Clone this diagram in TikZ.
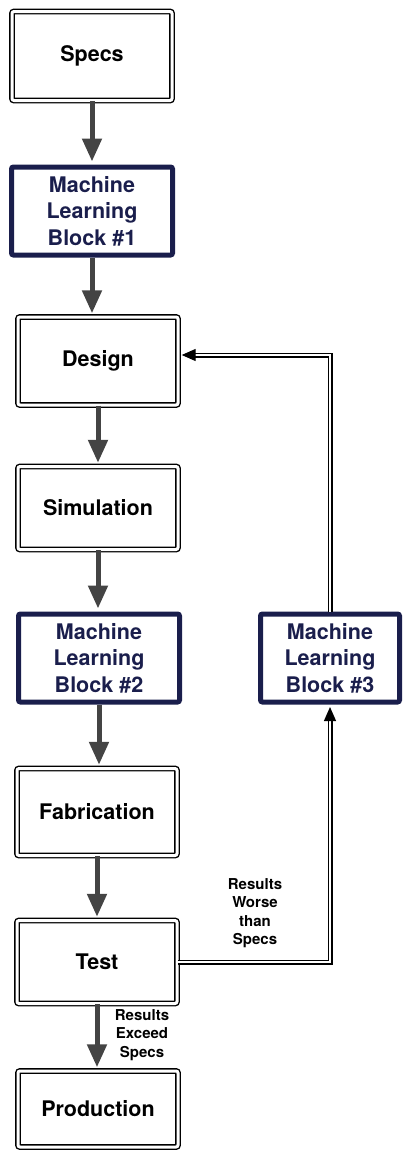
\documentclass[tikz,border=0pt]{standalone}
\usepackage{fontspec}
\setmainfont{TeX Gyre Heros}
\usepackage{tikz}
\usetikzlibrary{arrows.meta,calc,positioning}
\definecolor{mlnavy}{RGB}{26,30,76}
\definecolor{flowgray}{RGB}{68,68,68}
\tikzstyle{stage} =[draw, line width=1.4pt, double distance=3pt,
                    rounded corners=2pt, minimum width=160pt,
                    minimum height=87pt, inner sep=0pt,
                    font=\fontsize{21.5}{26.5}\selectfont\bfseries,
                    align=center]
\tikzstyle{mlblock}=[draw=mlnavy, line width=5pt, rounded corners=2pt,
                    minimum width=161pt, minimum height=88pt,
                    inner sep=0pt, text=mlnavy,
                    font=\fontsize{21.5}{26.5}\selectfont\bfseries,
                    align=center]
\tikzstyle{flow}  =[draw=flowgray, line width=5pt, shorten >=3pt,
                    -{Triangle[length=23pt,width=19pt]}]
\tikzstyle{loop}  =[draw, line width=1.2pt, double distance=2.6pt,
                    -{Triangle[length=14pt,width=12pt]}]
\tikzstyle{note}  =[align=center, inner sep=0pt,
                    font=\fontsize{15}{18.5}\selectfont\bfseries]

\begin{document}
\begin{tikzpicture}[x=1pt,y=-1pt]
    \useasboundingbox (0,0) rectangle (416,1151);

    \draw (92,56) node (specs) [stage, minimum height=89pt] {Specs};
    \draw (92,211) node (ml1) [mlblock] {Machine\\Learning\\Block \#1};
    \draw (98,361) node (design) [stage, minimum height=88pt] {Design};
    \draw (98,508) node (sim) [stage, minimum height=83pt] {Simulation};
    \draw (99,658) node (ml2) [mlblock] {Machine\\Learning\\Block \#2};
    \draw (330,658) node (ml3) [mlblock, minimum width=139pt] {Machine\\Learning\\Block \#3};
    \draw (97,812) node (fab) [stage] {Fabrication};
    \draw (97,962) node (test) [stage, minimum height=83pt] {Test};
    \draw (98,1109) node (prod) [stage, minimum height=76pt] {Production};

    \foreach \i/\j in {specs/ml1,ml1/design,design/sim,sim/ml2,ml2/fab,fab/test,test/prod}
        \draw [flow] (\i.south) -- (\i.south |- \j.north);

    % feedback loop
    \draw [loop, shorten >=2.5pt] (test.east) -| (ml3.south);
    \draw [loop, shorten >=3pt] (ml3.north) |- ([yshift=6pt]design.east);

    \node (worse) [note] at (255,913) {Results\\Worse\\than\\Specs};
    \node (exceed) [note] at (142,1035) {Results\\Exceed\\Specs};

\end{tikzpicture}
\end{document}
